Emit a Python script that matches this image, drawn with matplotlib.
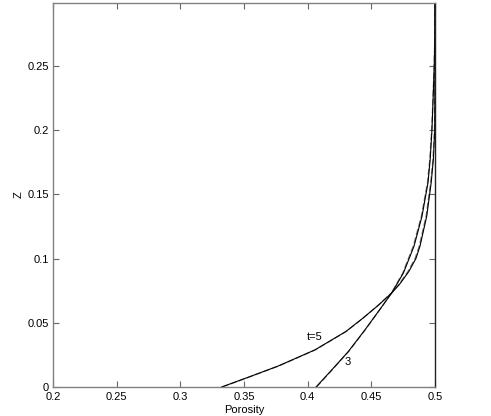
import matplotlib
matplotlib.use("Agg")
import matplotlib.pyplot as plt

plt.rcParams['font.family'] = ['Liberation Sans', 'DejaVu Sans']

# t=5 profile (solid) and its companion (dashed)
z5 = [0.0, 0.0076, 0.0164, 0.0289, 0.0432, 0.0537, 0.0641, 0.0732, 0.08, 0.09, 0.1, 0.1096, 0.1330, 0.1591, 0.177, 0.2, 0.25, 0.299]
x5 = [0.3324, 0.3533, 0.3770, 0.4057, 0.4300, 0.4435, 0.4560, 0.4660, 0.4722, 0.4795, 0.4850, 0.4882, 0.4935, 0.4970, 0.4987, 0.4998, 0.5, 0.5]
x5d = [0.3330, 0.3538, 0.3774, 0.4060, 0.4302, 0.4436, 0.4559, 0.4657, 0.4717, 0.4788, 0.4843, 0.4876, 0.4930, 0.4966, 0.4984, 0.4996, 0.5, 0.5]

# t=3 profile (solid) and its companion (dashed)
z3 = [0.0, 0.0133, 0.0276, 0.0445, 0.0615, 0.0732, 0.0888, 0.1096, 0.1330, 0.1591, 0.177, 0.2, 0.224, 0.25, 0.277, 0.299]
x3 = [0.4066, 0.4189, 0.4319, 0.4450, 0.4575, 0.4660, 0.4752, 0.4835, 0.4898, 0.4945, 0.4962, 0.4976, 0.4985, 0.4994, 0.5, 0.5]
x3d = [0.4070, 0.4192, 0.4322, 0.4452, 0.4576, 0.4658, 0.4747, 0.4829, 0.4893, 0.4941, 0.4959, 0.4974, 0.4984, 0.4993, 0.5, 0.5]

xticks = [0.2, 0.25, 0.3, 0.35, 0.4, 0.45, 0.5]
xtick_labels = ['0.2', '0.25', '0.3', '0.35', '0.4', '0.45', '0.5']
yticks = [0, 0.05, 0.1, 0.15, 0.2, 0.25]
ytick_labels = ['0', '0.05', '0.1', '0.15', '0.2', '0.25']

fig = plt.figure(figsize=(4.91, 4.16), dpi=100)
ax = fig.add_axes([53/491, 1-387/416, 382/491, 384/416])

ax.plot(x5d, z5, color='#777777', lw=0.9, ls=(0, (5, 2)))
ax.plot(x3d, z3, color='#777777', lw=0.9, ls=(0, (5, 2)))
ax.plot(x5, z5, color='black', lw=0.8)
ax.plot(x3, z3, color='black', lw=0.8)

ax.text(0.4057, 0.039, 't=5', fontsize=8, ha='center', va='center')
ax.text(0.4317, 0.0195, '3', fontsize=8, ha='center', va='center')

ax.set_xlim(0.2, 0.5)
ax.set_ylim(0, 0.299)
ax.set_xticks(xticks)
ax.set_xticklabels(xtick_labels)
ax.set_yticks(yticks)
ax.set_yticklabels(ytick_labels)
ax.tick_params(direction='in', length=4, width=0.8, color='#666666', labelsize=8,
               top=True, right=True)
ax.tick_params(axis='x', pad=3.5)
ax.tick_params(axis='y', pad=3)
for s in ax.spines.values():
    s.set_color('#808080')
    s.set_linewidth(1.0)
ax.spines['right'].set_color('#222222')

ax.set_xlabel('Porosity', fontsize=8, labelpad=2)
ax.set_ylabel('Z', fontsize=8, labelpad=3)

fig.savefig('out.png', dpi=100)
